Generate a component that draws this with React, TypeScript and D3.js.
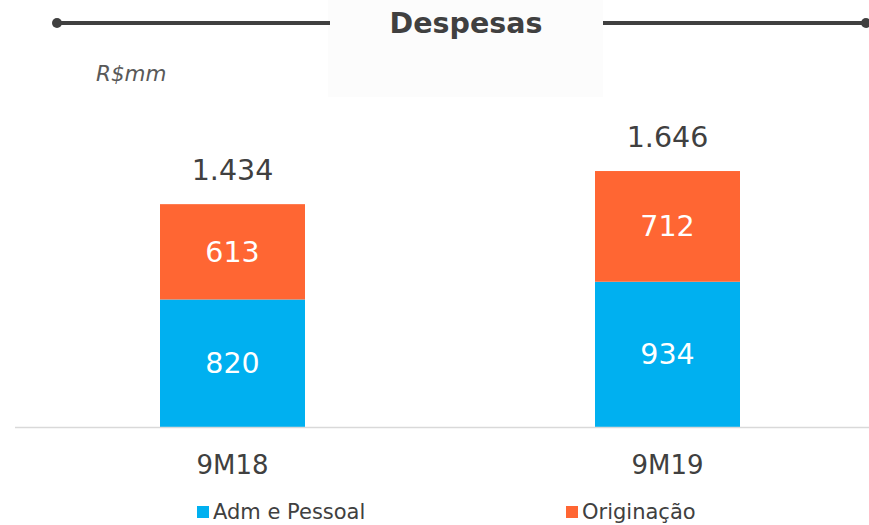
import React from "react";
import * as d3 from "d3";

const categories = ["9M18", "9M19"];
const admPessoal = [820, 934];
const originacao = [613, 712];
const totals = ["1.434", "1.646"];
const seriesNames = ["Adm e Pessoal", "Originação"];
const colors = ["#00B0F0", "#FF6633"];

const W = 869;
const H = 525;
const font = "'DejaVu Sans', Verdana, sans-serif";

export default function App() {
  const x = d3.scalePoint<string>().domain(categories).range([232.5, 667.5]);
  const bw = 145;
  const y = d3.scaleLinear().domain([0, 1434]).range([427, 204]);

  const stacked = categories.map((c, i) => {
    const a = admPessoal[i];
    const o = originacao[i];
    return { c, parts: [[0, a], [a, a + o]] as [number, number][], vals: [a, o], total: totals[i] };
  });

  return (
    <svg width={W} height={H} style={{ position: "absolute", left: 0, top: 0, fontFamily: font }}>
      <rect x={328} y={0} width={275} height={97} fill="#FCFCFC" />
      <line x1={57} x2={330} y1={23} y2={23} stroke="#404040" strokeWidth={4} />
      <circle cx={57} cy={23} r={5} fill="#404040" />
      <line x1={603} x2={866} y1={23} y2={23} stroke="#404040" strokeWidth={4} />
      <circle cx={866} cy={23} r={5} fill="#404040" />
      <text x={466} y={33} textAnchor="middle" fontSize={28.5} fontWeight="bold" fill="#404040">Despesas</text>
      <text x={96} y={81} fontSize={21.5} fontStyle="italic" fill="#595959">R$mm</text>

      {stacked.map((s) => {
        const cx = x(s.c)!;
        const bx = cx - bw / 2;
        return (
          <g key={s.c}>
            {s.parts.map(([y0, y1], j) => (
              <g key={j}>
                <rect x={bx} y={y(y1)} width={bw} height={y(y0) - y(y1)} fill={colors[j]} />
                <text x={cx} y={(y(y0) + y(y1)) / 2 + 10} textAnchor="middle" fontSize={28.5} fill="#fff">
                  {s.vals[j]}
                </text>
              </g>
            ))}
            <text x={cx} y={y(s.parts[1][1]) - 24} textAnchor="middle" fontSize={28.5} fill="#404040">
              {s.total}
            </text>
            <text x={cx} y={474} textAnchor="middle" fontSize={26} fill="#404040">{s.c}</text>
          </g>
        );
      })}
      <line x1={15} x2={869} y1={427.5} y2={427.5} stroke="#D9D9D9" strokeWidth={1.5} />

      {seriesNames.map((n, i) => {
        const lx = i === 0 ? 197 : 566;
        return (
          <g key={n}>
            <rect x={lx} y={506} width={12} height={12} fill={colors[i]} />
            <text x={lx + 16} y={519} fontSize={21} fill="#404040">{n}</text>
          </g>
        );
      })}
    </svg>
  );
}
